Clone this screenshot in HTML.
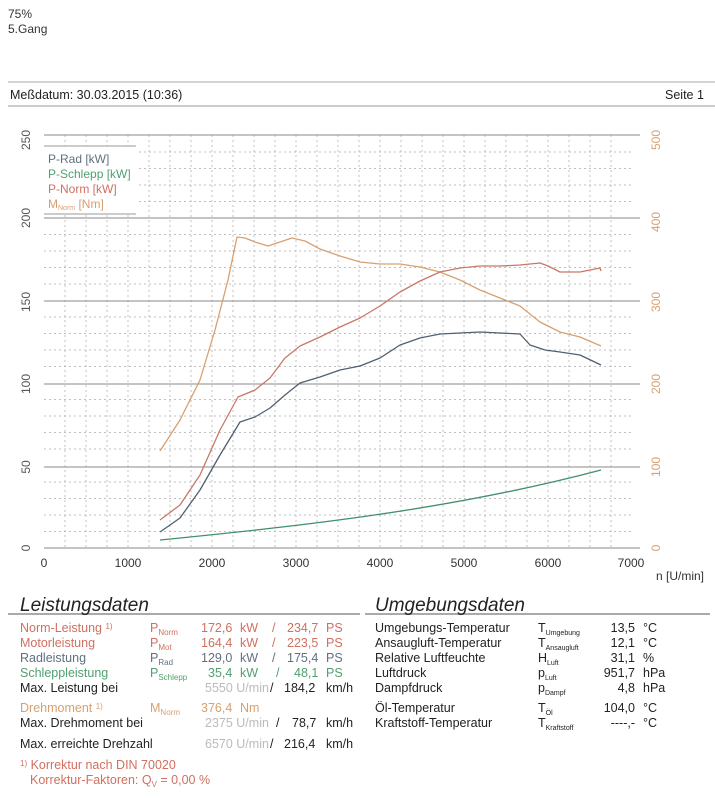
<!DOCTYPE html><html><head><meta charset="utf-8"><style>body{margin:0;background:#fff}svg{display:block;font-family:"Liberation Sans",sans-serif}</style></head><body>
<svg width="715" height="800" viewBox="0 0 715 800" xmlns="http://www.w3.org/2000/svg">
<g font-size="12" fill="#333"><text x="8" y="18">75%</text><text x="8" y="33">5.Gang</text></g>
<line x1="8" y1="82" x2="715" y2="82" stroke="#aaa"/>
<text x="10" y="99" font-size="12.5" fill="#222">Meßdatum: 30.03.2015 (10:36)</text>
<text x="665" y="99" font-size="12.5" fill="#222">Seite 1</text>
<line x1="8" y1="106" x2="715" y2="106" stroke="#999"/>
<g stroke="#999" stroke-dasharray="2,3" stroke-width="0.8" id="g">
<script>/* grid generated below statically */</script>
</g>
<g stroke="#aaa" stroke-dasharray="2,3" stroke-width="0.7">
<path d="M44 531.5H631M44 515H631M44 498.5H631M44 482H631M44 449H631M44 432.5H631M44 416H631M44 399.5H631M44 366.5H631M44 350H631M44 333.5H631M44 317H631M44 284H631M44 267.5H631M44 251H631M44 234.5H631M44 201.5H631M44 185H631M44 168.5H631M44 152H631"/>
<path d="M65 135V548M86 135V548M107 135V548M128 135V548M149 135V548M170 135V548M191 135V548M212 135V548M233 135V548M254 135V548M275 135V548M296 135V548M317 135V548M338 135V548M359 135V548M380 135V548M401 135V548M422 135V548M443 135V548M464 135V548M485 135V548M506 135V548M527 135V548M548 135V548M569 135V548M590 135V548M611 135V548"/>
</g>
<g stroke="#888" stroke-width="1"><path d="M44 135H640M44 218H640M44 301H640M44 384H640M44 467H640M44 548H640"/></g>
<g font-size="12" fill="#555">
<text transform="translate(30,140) rotate(-90)" text-anchor="middle">250</text>
<text transform="translate(30,218) rotate(-90)" text-anchor="middle">200</text>
<text transform="translate(30,302) rotate(-90)" text-anchor="middle">150</text>
<text transform="translate(30,384) rotate(-90)" text-anchor="middle">100</text>
<text transform="translate(30,467) rotate(-90)" text-anchor="middle">50</text>
<text transform="translate(30,548) rotate(-90)" text-anchor="middle">0</text>
</g>
<g font-size="12" fill="#d8a070">
<text transform="translate(660,140) rotate(-90)" text-anchor="middle">500</text>
<text transform="translate(660,222) rotate(-90)" text-anchor="middle">400</text>
<text transform="translate(660,302) rotate(-90)" text-anchor="middle">300</text>
<text transform="translate(660,384) rotate(-90)" text-anchor="middle">200</text>
<text transform="translate(660,467) rotate(-90)" text-anchor="middle">100</text>
<text transform="translate(660,548) rotate(-90)" text-anchor="middle">0</text>
</g>
<g font-size="12" fill="#333" text-anchor="middle">
<text x="44" y="567">0</text><text x="128" y="567">1000</text><text x="212" y="567">2000</text><text x="296" y="567">3000</text><text x="380" y="567">4000</text><text x="464" y="567">5000</text><text x="548" y="567">6000</text><text x="631" y="567">7000</text>
<text x="680" y="580">n [U/min]</text></g>
<rect x="44" y="146" width="92" height="68" fill="#fff"/>
<line x1="44" y1="146" x2="136" y2="146" stroke="#999"/><line x1="44" y1="214" x2="136" y2="214" stroke="#999"/>
<g font-size="12"><text x="48" y="163" fill="#607080">P-Rad [kW]</text><text x="48" y="178" fill="#50a070">P-Schlepp [kW]</text><text x="48" y="193" fill="#d07060">P-Norm [kW]</text><text x="48" y="208" fill="#d8a070">M<tspan font-size="7" dy="2">Norm</tspan><tspan dy="-2"> [Nm]</tspan></text></g>
<g fill="none" stroke-width="1.3" stroke-linejoin="round">
<polyline stroke="#d8a070" points="160,451 180,420 200,380 215,330 228,280 237,237 245,238 255,242 268,246 280,242 292,238 305,241 320,249 340,256 360,262 380,264 400,264 420,267 440,272 460,280 480,290 500,298 520,306 540,322 560,332 580,337 601,346"/>
<polyline stroke="#c87868" points="160,520 180,505 200,475 220,430 238,397 255,390 270,378 285,358 300,346 320,337 340,327 360,318 380,306 400,292 420,281 440,272 460,268 480,266 500,266 520,265 540,263 548,266 560,272 580,272 600,268 601,271"/>
<polyline stroke="#506070" points="160,532 180,518 200,490 220,455 240,422 255,417 270,408 285,395 300,383 320,377 340,370 360,366 380,358 400,345 420,338 440,334 460,333 480,332 500,333 520,334 530,345 545,350 560,352 580,355 601,365"/>
<path stroke="#40906a" d="M160,540 C300,526 450,510 601,470"/>
</g>
<line x1="8" y1="614" x2="360" y2="614" stroke="#aaa" stroke-width="2"/>
<line x1="365" y1="614" x2="710" y2="614" stroke="#aaa" stroke-width="2"/>
<g font-size="19" font-style="italic" fill="#222"><text x="20" y="611">Leistungsdaten</text><text x="375" y="611">Umgebungsdaten</text></g>
<g font-size="12.5">
<g fill="#d07060"><text x="20" y="632">Norm-Leistung <tspan font-size="8" dy="-3">1)</tspan></text><text x="150" y="632">P<tspan font-size="8" dy="3">Norm</tspan></text><text x="201" y="632">172,6</text><text x="240" y="632">kW</text><text x="272" y="632">/</text><text x="287" y="632">234,7</text><text x="326" y="632">PS</text>
<text x="20" y="647">Motorleistung</text><text x="150" y="647">P<tspan font-size="8" dy="3">Mot</tspan></text><text x="201" y="647">164,4</text><text x="240" y="647">kW</text><text x="272" y="647">/</text><text x="287" y="647">223,5</text><text x="326" y="647">PS</text></g>
<g fill="#607080"><text x="20" y="662">Radleistung</text><text x="150" y="662">P<tspan font-size="8" dy="3">Rad</tspan></text><text x="201" y="662">129,0</text><text x="240" y="662">kW</text><text x="272" y="662">/</text><text x="287" y="662">175,4</text><text x="326" y="662">PS</text></g>
<g fill="#50a070"><text x="20" y="677">Schleppleistung</text><text x="150" y="677">P<tspan font-size="8" dy="3">Schlepp</tspan></text><text x="208" y="677">35,4</text><text x="240" y="677">kW</text><text x="276" y="677">/</text><text x="294" y="677">48,1</text><text x="326" y="677">PS</text></g>
<text x="20" y="692" fill="#222">Max. Leistung bei</text><text x="205" y="692" fill="#bbb">5550  U/min</text><text x="270" y="692" fill="#222">/</text><text x="284" y="692" fill="#222">184,2</text><text x="326" y="692" fill="#222">km/h</text>
<g fill="#d8a070"><text x="20" y="712">Drehmoment <tspan font-size="8" dy="-3">1)</tspan></text><text x="150" y="712">M<tspan font-size="8" dy="3">Norm</tspan></text><text x="201" y="712">376,4</text><text x="240" y="712">Nm</text></g>
<text x="20" y="727" fill="#222">Max. Drehmoment bei</text><text x="205" y="727" fill="#bbb">2375  U/min</text><text x="276" y="727" fill="#222">/</text><text x="292" y="727" fill="#222">78,7</text><text x="326" y="727" fill="#222">km/h</text>
<text x="20" y="748" fill="#222">Max. erreichte Drehzahl</text><text x="205" y="748" fill="#bbb">6570  U/min</text><text x="270" y="748" fill="#222">/</text><text x="284" y="748" fill="#222">216,4</text><text x="326" y="748" fill="#222">km/h</text>
<g fill="#d07060"><text x="20" y="769"><tspan font-size="8" dy="-3">1)</tspan><tspan dy="3"> Korrektur nach DIN 70020</tspan></text><text x="30" y="784">Korrektur-Faktoren: Q<tspan font-size="8" dy="3">V</tspan><tspan dy="-3"> =   0,00 %</tspan></text></g>
<g fill="#222">
<text x="375" y="632">Umgebungs-Temperatur</text><text x="538" y="632">T<tspan font-size="7" dy="3">Umgebung</tspan></text><text x="635" y="632" text-anchor="end">13,5</text><text x="643" y="632">°C</text>
<text x="375" y="647">Ansaugluft-Temperatur</text><text x="538" y="647">T<tspan font-size="7" dy="3">Ansaugluft</tspan></text><text x="635" y="647" text-anchor="end">12,1</text><text x="643" y="647">°C</text>
<text x="375" y="662">Relative Luftfeuchte</text><text x="538" y="662">H<tspan font-size="7" dy="3">Luft</tspan></text><text x="635" y="662" text-anchor="end">31,1</text><text x="643" y="662">%</text>
<text x="375" y="677">Luftdruck</text><text x="538" y="677">p<tspan font-size="7" dy="3">Luft</tspan></text><text x="635" y="677" text-anchor="end">951,7</text><text x="643" y="677">hPa</text>
<text x="375" y="692">Dampfdruck</text><text x="538" y="692">p<tspan font-size="7" dy="3">Dampf</tspan></text><text x="635" y="692" text-anchor="end">4,8</text><text x="643" y="692">hPa</text>
<text x="375" y="712">Öl-Temperatur</text><text x="538" y="712">T<tspan font-size="7" dy="3">Öl</tspan></text><text x="635" y="712" text-anchor="end">104,0</text><text x="643" y="712">°C</text>
<text x="375" y="727">Kraftstoff-Temperatur</text><text x="538" y="727">T<tspan font-size="7" dy="3">Kraftstoff</tspan></text><text x="635" y="727" text-anchor="end">----,-</text><text x="643" y="727">°C</text>
</g></g>
</svg></body></html>
